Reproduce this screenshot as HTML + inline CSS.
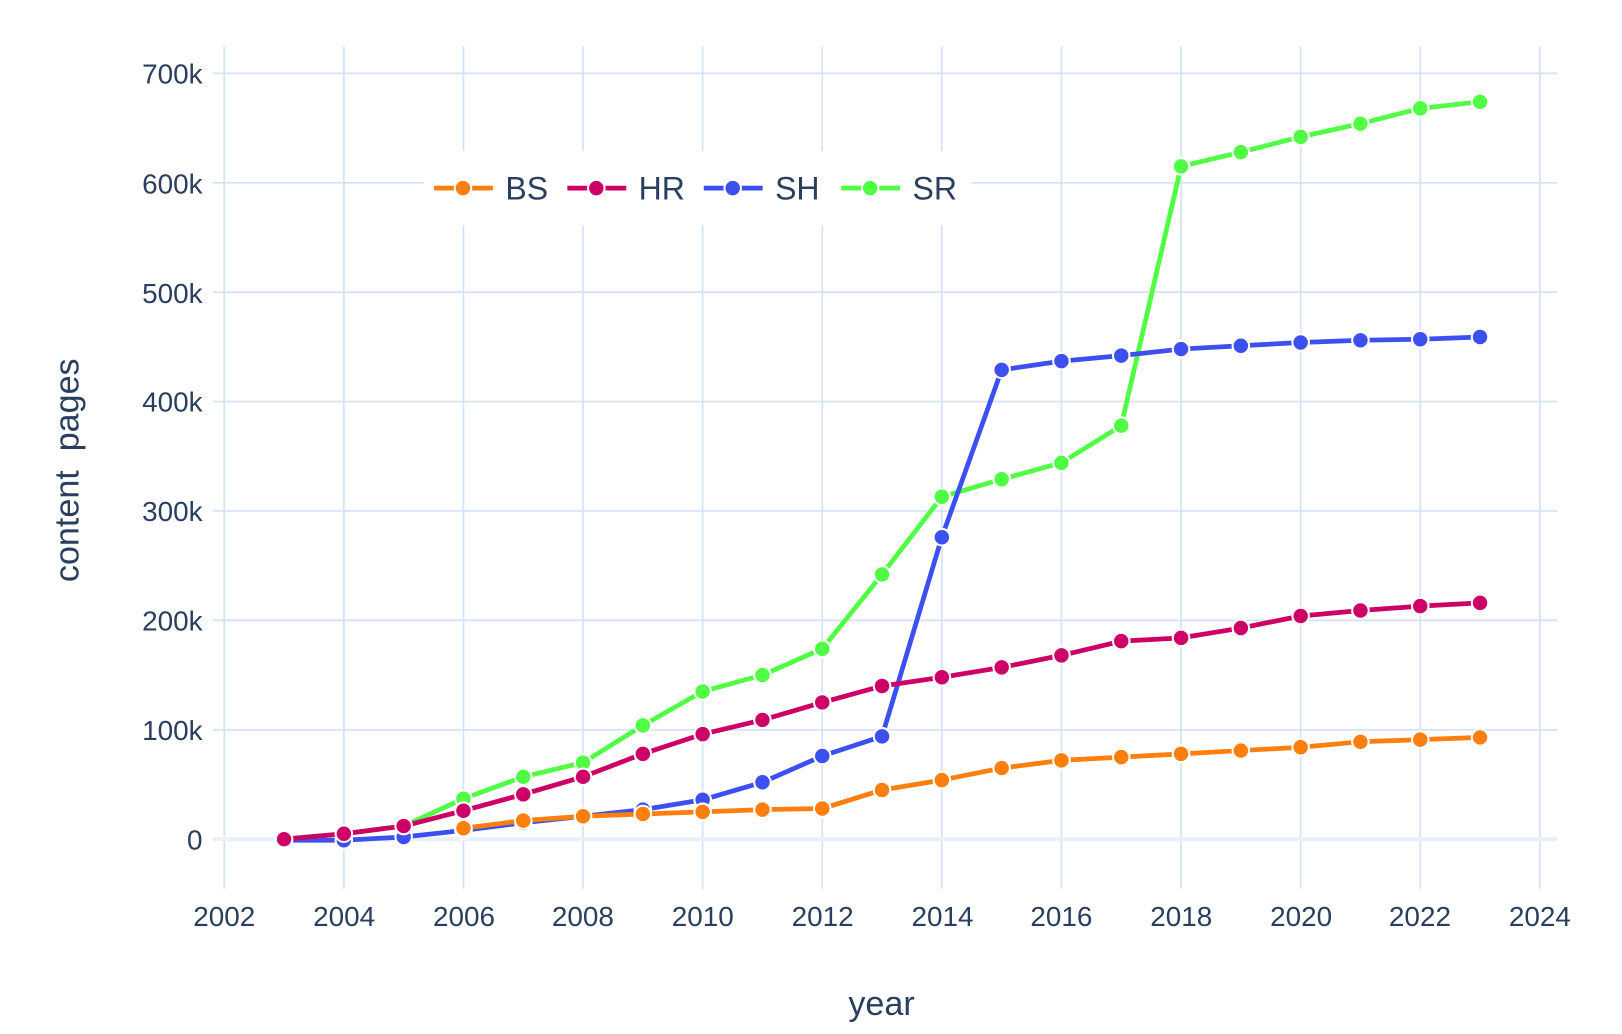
<!DOCTYPE html>
<html><head><meta charset="utf-8"><style>
html,body{margin:0;padding:0;background:#fff}
svg{display:block}
text{font-family:"Liberation Sans","DejaVu Sans",sans-serif;fill:#2a3f5f}
</style></head><body>
<svg id="s" width="1622" height="1034" viewBox="0 0 1569.5 1000.5">
<g id="grid" stroke="#d2e2f8" stroke-width="1.6"></g>
<line x1="206" y1="812" x2="1507" y2="812" stroke="#ebf0f8" stroke-width="4"/>
<g id="series"></g>
<g font-size="27" text-anchor="end">
<text x="196" y="822">0</text>
<text x="196" y="716">100k</text>
<text x="196" y="610">200k</text>
<text x="196" y="504">300k</text>
<text x="196" y="398">400k</text>
<text x="196" y="293">500k</text>
<text x="196" y="187">600k</text>
<text x="196" y="81">700k</text>
</g>
<g font-size="27" text-anchor="middle">
<text x="217" y="896">2002</text>
<text x="333" y="896">2004</text>
<text x="449" y="896">2006</text>
<text x="564" y="896">2008</text>
<text x="680" y="896">2010</text>
<text x="796" y="896">2012</text>
<text x="912" y="896">2014</text>
<text x="1027" y="896">2016</text>
<text x="1143" y="896">2018</text>
<text x="1259" y="896">2020</text>
<text x="1374" y="896">2022</text>
<text x="1490" y="896">2024</text>
</g>
<text x="853" y="982" font-size="33" text-anchor="middle">year</text>
<text transform="translate(76,455) rotate(-90)" font-size="33" text-anchor="middle" xml:space="preserve">content  pages</text>
<rect x="410" y="146" width="530" height="72" fill="#fff"/>
<g id="legend"></g>
<g font-size="31">
<text x="489" y="193">BS</text>
<text x="618" y="193">HR</text>
<text x="750" y="193">SH</text>
<text x="883" y="193">SR</text>
</g>
</svg>
<script>
var NS="http://www.w3.org/2000/svg";
function el(p,t,a){var e=document.createElementNS(NS,t);for(var k in a)e.setAttribute(k,a[k]);p.appendChild(e);return e;}
var g=document.getElementById('grid');
for(var y=2002;y<=2024;y+=2){var x=217+(y-2002)*57.864;el(g,'line',{x1:x,y1:45,x2:x,y2:860});}
for(var v=100;v<=700;v+=100){var yy=812-v*1.0586;el(g,'line',{x1:206,y1:yy,x2:1507,y2:yy});}
function X(y){return 217+(y-2002)*57.864}
function Y(v){return 812-v*1.0586}
var D={
BS:[2006,[10,17,21,23,25,27,28,45,54,65,72,75,78,81,84,89,91,93],'#ff7f0e'],
HR:[2003,[0,5,12,26,41,57,78,96,109,125,140,148,157,168,181,184,193,204,209,213,216],'#cc0066'],
SH:[2003,[-1,-1,2,8,15,21,27,36,52,76,94,276,429,437,442,448,451,454,456,457,459],'#3c50f0'],
SR:[2003,[0,5,12,37,57,70,104,135,150,174,242,313,329,344,378,615,628,642,654,668,674],'#50ff44']};
var s=document.getElementById('series');
['SR','SH','BS','HR'].forEach(function(k){var d=D[k];var pts=d[1].map(function(v,i){return X(d[0]+i)+','+Y(v)});
el(s,'polyline',{points:pts.join(' '),fill:'none',stroke:d[2],'stroke-width':4.6,'stroke-linejoin':'round'});
d[1].forEach(function(v,i){el(s,'circle',{cx:X(d[0]+i),cy:Y(v),r:8,fill:d[2],stroke:'#fff','stroke-width':2});});});
var L=document.getElementById('legend');
[['BS',420],['HR',549],['SH',681],['SR',814]].forEach(function(a){var c=D[a[0]][2];
el(L,'line',{x1:a[1],y1:182,x2:a[1]+57,y2:182,stroke:c,'stroke-width':4.6});
el(L,'circle',{cx:a[1]+28,cy:182,r:8,fill:c,stroke:'#fff','stroke-width':2});});
</script>
</body></html>
